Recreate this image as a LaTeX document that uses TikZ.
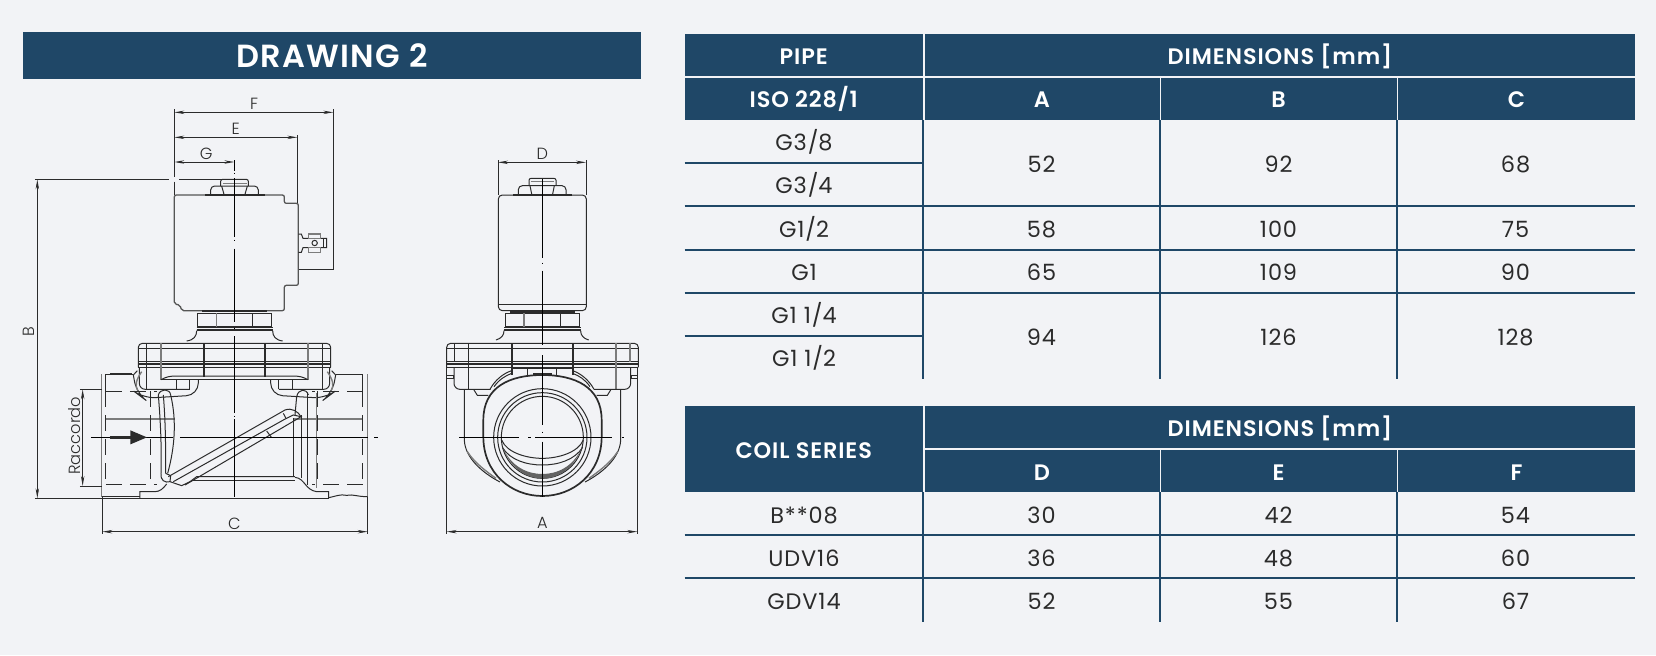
\documentclass[tikz,border=0pt]{standalone}
\usepackage{fontspec}
\setmainfont{Poppins}[BoldFont={Poppins SemiBold},LetterSpace=4]
\newfontfamily\thinfont{Poppins Light}
\usetikzlibrary{arrows.meta}
\definecolor{pagegrey}{HTML}{F2F3F6}
\definecolor{headblue}{HTML}{1F4767}
\definecolor{inkgrey}{HTML}{2B2B2B}
\definecolor{softgrey}{HTML}{7C7C7C}
\definecolor{coilgrey}{HTML}{555555}
\tikzset{
	part/.style={draw=inkgrey,line width=.5pt},
	thickpart/.style={draw=inkgrey,line width=.85pt},
	softpart/.style={draw=softgrey,line width=.7pt},
	coilpart/.style={draw=coilgrey,line width=.65pt},
	thread/.style={draw=inkgrey,line width=.5pt,dash pattern=on 8pt off 4pt},
	dimline/.style={draw=inkgrey,line width=.45pt,{Stealth[length=5pt,width=1.7pt]}-{Stealth[length=5pt,width=1.7pt]}},
	extline/.style={draw=inkgrey,line width=.45pt},
	axisline/.style={draw=black,line width=.5pt},
	dimlabel/.style={font=\thinfont\fontsize{8.1}{8.1}\selectfont,text=inkgrey,inner sep=0},
	headcell/.style={fill=headblue,text=white,font=\bfseries\fontsize{11.2}{11.2}\selectfont,inner sep=0,minimum height=21pt,text height=9.2pt,text depth=0pt},
	bodycell/.style={text=inkgrey,font=\fontsize{11.2}{11.2}\selectfont,inner sep=0,text height=9.2pt,text depth=0pt},
	rowrule/.style={draw=headblue,line width=.8pt},
}
\begin{document}
\begin{tikzpicture}[x=.5pt,y=-.5pt]
	\useasboundingbox[fill=pagegrey] (0,0) rectangle (1656,655);
	% title
	\node[headcell,font=\bfseries\fontsize{16}{16}\selectfont,text height=12pt,minimum width=309pt,minimum height=23.5pt] (title) at (332,55.5) {DRAWING 2};
	% side view, top
	\begin{scope}[shift={(0,80)},scale=1/3]
		\coordinate (fl) at (523,97);
		\coordinate (fr) at (1000,97);
		\coordinate (el) at (523,172);
		\coordinate (er) at (892,172);
		\coordinate (gl) at (523,246);
		\coordinate (gr) at (703,246);
		\draw[dimline] (fl) -- (fr);
		\draw[dimline] (el) -- (er);
		\draw[dimline] (gl) -- (gr);
		\node[dimlabel] (lblf) at (762,71) {F};
		\node[dimlabel] (lble) at (707,147) {E};
		\node[dimlabel] (lblg) at (619,221) {G};
		\draw[extline] (523,88) -- (523,290) (523,305) -- (523,345);
		\draw[extline] (1000,88) -- (1000,568) -- (893,568);
		\draw[extline] (892,165) -- (892,368);
		\draw[extline] (105,298) -- (508,298) (538,298) -- (665,298);
		% coil
		\draw[coilpart,rounded corners=1pt] (523,345) -- (853,345) -- (853,370) -- (895,370) -- (895,616) -- (853,616) -- (853,692) -- (545,692) -- (540,675) -- (523,672) -- cycle;
		% terminal
		\draw[part] (895,462) -- (904,462) -- (909,475) -- (980,475) -- (980,503) -- (909,503) -- (904,517) -- (895,517);
		\draw[part] (972,475) -- (972,503);
		\draw[softpart,fill=pagegrey] (925,462) rectangle (962,475);
		\draw[softpart,fill=pagegrey] (925,503) rectangle (962,517);
		\draw[part] (944,489) circle (8);
		% top nut
		\draw[thickpart] (615,344) -- (795,344);
		\draw[part,rounded corners=2pt] (632,343) -- (632,318) -- (775,318) -- (775,343);
		\draw[part] (665,318) -- (672,343) (742,318) -- (735,343);
		\draw[part,rounded corners=1pt] (662,318) -- (662,298) -- (745,298) -- (745,318);
		\draw[softpart] (668,310) -- (740,310);
		% lower nut
		\draw[thickpart] (607,694) -- (800,694);
		\draw[part] (592,700) rectangle (814,740);
		\draw[softpart] (650,700) -- (650,740);
		\draw[part] (757,700) -- (757,740);
		\draw[part] (590,742) -- (818,742);
		\draw[draw=inkgrey,line width=1.1pt] (590,751) -- (818,751);
		\draw[part] (590,752) .. controls (590,768) and (582,780) .. (560,783);
		\draw[part] (818,752) .. controls (818,768) and (826,780) .. (848,783);
		\node[dimlabel,rotate=90] (lblb) at (87,755) {B};
	\end{scope}
	% side view, body
	\begin{scope}[shift={(0,330)},scale=1/3]
		\coordinate (bt) at (112,-452);
		\coordinate (bb) at (112,505);
		\draw[dimline] (bt) -- (bb);
		\draw[extline] (105,505) -- (420,505);
		\foreach \side in {0,1} {
			\begin{scope}[shift={(1407*\side,0)},xscale=1-2*\side]
				\draw[part,rounded corners=2pt] (415,112) -- (415,40) -- (703,40);
				\draw[part] (415,55) -- (703,55) (415,95) -- (703,95) (415,112) -- (703,112);
				\draw[thickpart] (415,103) -- (703,103);
				\draw[part] (440,40) -- (440,178);
				\draw[softpart] (483,40) -- (483,149);
				\draw[thickpart] (611,40) -- (611,140);
				\draw[part] (483,149) .. controls (500,140) and (510,138) .. (530,138) -- (703,138);
				\draw[part] (483,149) -- (703,149);
				\draw[part,rounded corners=3pt] (418,112) -- (418,178) -- (570,178);
				\draw[part] (530,149) -- (530,178) (570,149) -- (570,178);
				\draw[part,rounded corners=6pt] (595,149) -- (595,195) -- (430,205) -- (410,190) -- (400,135);
				\draw[part] (400,135) -- (412,122);
				\draw[softpart] (412,180) .. controls (405,165) and (408,150) .. (425,125);
				% body wall
				\draw[softpart] (305,133) -- (305,500);
				\draw[part] (318,133) -- (318,183);
				\draw[part] (318,133) -- (400,133);
				\draw[softpart] (318,267) -- (525,267);
				% threads
				\draw[thread] (318,183) -- (470,183) (318,183) -- (318,463) (453,183) -- (453,463) (318,463) -- (470,463);
			\end{scope}
		}
		\draw[thickpart] (330,131) -- (395,131);
		% bottom
		\draw[part] (305,500) -- (420,500);
		\draw[part] (420,505) -- (986,505);
		\draw[part] (420,505) -- (420,485) -- (465,485) .. controls (480,485) and (490,475) .. (500,462);
		\draw[part] (986,505) -- (986,485) -- (950,485) .. controls (915,480) and (915,445) .. (885,442);
		\draw[part] (986,503) .. controls (1010,498) and (1020,492) .. (1040,496) .. controls (1060,492) and (1070,500) .. (1103,500);
		% flow strips
		\draw[part] (475,195) .. controls (482,280) and (485,350) .. (483,430);
		\draw[part] (490,195) .. controls (497,280) and (497,350) .. (497,430);
		\draw[part] (475,195) .. controls (480,175) and (510,175) .. (512,195) .. controls (530,270) and (525,350) .. (503,430);
		\draw[part] (925,195) .. controls (920,175) and (895,175) .. (890,200) -- (885,255);
		\draw[part] (905,255) -- (905,445) (922,190) -- (922,465);
		\draw[softpart] (950,190) -- (950,475);
		\draw[part] (882,265) -- (882,442);
		% diagonal seat
		\draw[part] (505,440) -- (855,240) .. controls (875,232) and (895,245) .. (903,260);
		\draw[part] (555,465) -- (890,268) -- (903,260) -- (880,255) -- (850,270) -- (520,455);
		\draw[part] (800,303) -- (815,323) (850,250) -- (858,265);
		\draw[part] (483,430) .. controls (480,450) and (495,460) .. (510,455) -- (545,467) -- (570,455) -- (590,440) -- (885,440);
		\draw[part] (497,430) -- (512,437) -- (510,455);
		\draw[part] (575,452) -- (885,452);
		% centre lines
		\draw[axisline] (273,322) -- (520,322) (540,322) -- (1105,322) (1123,322) -- (1133,322);
		\draw[axisline] (703,18) -- (703,250) (703,257) -- (703,261) (703,268) -- (703,500);
		% flow arrow
		\coordinate (flowin) at (330,322);
		\coordinate (flowout) at (442,322);
		\draw[-{Triangle[length=8.5pt,width=6.5pt]},line width=1.7pt,draw=inkgrey,fill=inkgrey] (flowin) -- (flowout);
		% raccordo and C
		\coordinate (rt) at (248,178);
		\coordinate (rb) at (248,468);
		\draw[dimline] (rt) -- (rb);
		\draw[extline] (240,178) -- (305,178) (240,468) -- (305,468);
		\node[dimlabel,rotate=90] (lblr) at (223,317) {Raccordo};
		\coordinate (cl) at (307,605);
		\coordinate (cr) at (1103,605);
		\draw[dimline] (cl) -- (cr);
		\draw[extline] (307,500) -- (307,612) (1103,500) -- (1103,612);
		\node[dimlabel] (lblc) at (703,580) {C};
	\end{scope}
	\draw[axisline] (234.3,160) -- (234.3,170.5) (234.3,172.5) -- (234.3,173) (234.3,178) -- (234.3,236.5) (234.3,239.5) -- (234.3,240.5) (234.3,248.5) -- (234.3,321.5) (234.3,327.5) -- (234.3,328.5) (234.3,336) -- (234.3,348);
	% front view, top
	\begin{scope}[shift={(420,140)},scale=1/3]
		\coordinate (dl) at (234,67);
		\coordinate (dr) at (498,67);
		\draw[dimline] (dl) -- (dr);
		\node[dimlabel] (lbld) at (367,41) {D};
		\draw[extline] (234,60) -- (234,165);
		\draw[extline] (498,60) -- (498,165);
		\draw[part,rounded corners=2pt] (235,165) rectangle (499,512);
		\draw[part] (235,493) -- (499,493);
		\draw[thickpart] (280,164) -- (455,164);
		\draw[part,rounded corners=2pt] (295,162) -- (295,137) -- (438,137) -- (438,162);
		\draw[part] (330,137) -- (335,162) (403,137) -- (398,162);
		\draw[part,rounded corners=1pt] (327,137) -- (327,115) -- (408,115) -- (408,137);
		\draw[softpart] (332,125) -- (403,125);
		\draw[thickpart] (270,516) -- (465,516);
		\draw[part] (256,520) rectangle (478,560);
		\draw[softpart] (312,520) -- (312,560);
		\draw[part] (421,520) -- (421,560);
		\draw[part] (252,562) -- (482,562);
		\draw[draw=inkgrey,line width=1.1pt] (252,571) -- (482,571);
		\draw[part] (252,572) .. controls (252,585) and (245,595) .. (228,600);
		\draw[part] (482,572) .. controls (482,585) and (489,595) .. (506,600);
		\draw[axisline] (367,118) -- (367,355) (367,368) -- (367,372) (367,392) -- (367,600);
	\end{scope}
	% front view, body
	\begin{scope}[shift={(420,330)},scale=1/3]
		\draw[part,rounded corners=2pt] (80,112) -- (80,40) -- (655,40) -- (655,112);
		\draw[part] (80,55) -- (655,55) (80,95) -- (655,95) (80,112) -- (655,112);
		\draw[thickpart] (80,103) -- (655,103);
		\draw[part] (104,40) -- (104,95);
		\draw[part] (146,40) -- (146,178);
		\draw[thickpart] (275,40) -- (275,135) (458,40) -- (458,135);
		\draw[softpart] (588,40) -- (588,178) (630,40) -- (630,95);
		\draw[part,rounded corners=3pt] (102,112) -- (102,178) -- (212,178);
		\draw[part,rounded corners=3pt] (632,112) -- (632,178) -- (522,178);
		\draw[part] (80,135) -- (100,135) -- (100,146) -- (80,146);
		\draw[part] (652,135) -- (634,135) -- (634,146) -- (652,146);
		\draw[part] (322,116) -- (322,135) (410,116) -- (410,135) (275,116) -- (458,116);
		\draw[thickpart] (340,131) -- (395,131);
		\draw[part] (162,180) -- (172,196) -- (205,196) (572,180) -- (562,196) -- (530,196);
		\draw[part] (210,178) .. controls (225,150) and (250,130) .. (275,122);
		\draw[part] (222,170) .. controls (238,148) and (255,138) .. (275,130);
		\draw[part] (522,178) .. controls (507,150) and (482,130) .. (458,122);
		\draw[part] (510,170) .. controls (495,148) and (478,138) .. (458,130);
		\draw[part] (133,178) -- (133,330) .. controls (135,385) and (190,430) .. (240,456);
		\draw[part] (602,178) -- (602,330) .. controls (600,385) and (545,430) .. (495,456);
		\draw[softpart] (142,365) .. controls (165,400) and (200,425) .. (228,445);
		\draw[softpart] (593,365) .. controls (570,400) and (535,425) .. (507,445);
		\draw[thickpart,fill=pagegrey] (190,270) .. controls (190,170) and (270,135) .. (367,135) .. controls (464,135) and (545,170) .. (545,270) -- (545,320) .. controls (545,430) and (460,498) .. (367,498) .. controls (274,498) and (190,430) .. (190,320) -- cycle;
		\draw[part] (367,322) circle (146);
		\draw[part] (367,322) circle (134);
		\draw[part] (367,322) circle (123);
		\draw[part] (245,330) .. controls (260,368) and (320,385) .. (367,385) .. controls (414,385) and (474,368) .. (490,330);
		\draw[part] (247,352) .. controls (270,390) and (320,405) .. (367,405) .. controls (414,405) and (464,390) .. (488,352);
		\fill[softgrey!80!black] (247,350) .. controls (275,425) and (330,446) .. (367,446) .. controls (404,446) and (459,425) .. (487,350) .. controls (460,412) and (410,432) .. (367,432) .. controls (324,432) and (274,412) .. (247,350);
		\draw[axisline] (117,322) -- (297,322) (325,322) -- (333,322) (345,322) -- (575,322) (605,322) -- (612,322);
		\draw[axisline] (367,8) -- (367,45) (367,75) -- (367,285) (367,305) -- (367,308) (367,335) -- (367,500);
		\coordinate (al) at (80,605);
		\coordinate (ar) at (652,605);
		\draw[dimline] (al) -- (ar);
		\draw[extline] (80,112) -- (80,612) (652,112) -- (652,612);
		\node[dimlabel] (lbla) at (367,580) {A};
	\end{scope}
	% table one, headers
	\node[headcell,minimum width=118.75pt] (pipe) at (803.75,55) {PIPE};
	\node[headcell,minimum width=355pt] (dims) at (1280,55) {DIMENSIONS [mm]};
	\node[headcell,minimum width=118.75pt] (iso) at (803.75,98.75) {ISO 228/1};
	\node[headcell,minimum width=117.5pt] (heada) at (1042,98.75) {A};
	\node[headcell,minimum width=118pt] (headb) at (1278.5,98.75) {B};
	\node[headcell,minimum width=118.25pt] (headc) at (1516.5,98.75) {C};
	% table one, rows
	\foreach \name/\y/\txt in {r1/141.5/G3\slash 8,r2/184.5/G3\slash 4,r3/228/G1\slash 2,r4/271/G1,r5/314.5/G1 1\slash 4,r6/357.5/G1 1\slash 2}
		\node[bodycell] (\name) at (804,\y) {\txt};
	\foreach \name/\y/\a/\b/\c in {m1/163.5/52/92/68,m2/228/58/100/75,m3/271/65/109/90,m4/336/94/126/128} {
		\node[bodycell] (\name a) at (1041.5,\y) {\a};
		\node[bodycell] (\name b) at (1278.5,\y) {\b};
		\node[bodycell] (\name c) at (1515.5,\y) {\c};
	}
	\foreach \y in {206,250,293}
		\draw[rowrule] (684.5,\y) -- (1635,\y);
	\foreach \y in {163,336}
		\draw[rowrule] (684.5,\y) -- (923,\y);
	\foreach \x in {923,1160,1397}
		\draw[rowrule] (\x,120) -- (\x,379);
	% table two
	\node[headcell,minimum width=118.75pt,minimum height=43.25pt] (coil) at (803.75,449) {COIL SERIES};
	\node[headcell,minimum width=355pt] (dimstwo) at (1280,427) {DIMENSIONS [mm]};
	\node[headcell,minimum width=117.5pt] (headd) at (1042,471) {D};
	\node[headcell,minimum width=118pt] (heade) at (1278.5,471) {E};
	\node[headcell,minimum width=118.25pt] (headf) at (1516.5,471) {F};
	\foreach \name/\y/\s/\d/\e/\f in {s1/514/B**08/30/42/54,s2/557/UDV16/36/48/60,s3/600/GDV14/52/55/67} {
		\node[bodycell] (\name s) at (804,\y) {\s};
		\node[bodycell] (\name d) at (1041.5,\y) {\d};
		\node[bodycell] (\name e) at (1278.5,\y) {\e};
		\node[bodycell] (\name f) at (1515.5,\y) {\f};
	}
	\foreach \y in {535,578}
		\draw[rowrule] (684.5,\y) -- (1635,\y);
	\foreach \x in {923,1160,1397}
		\draw[rowrule] (\x,492) -- (\x,621.5);
\end{tikzpicture}
\end{document}
